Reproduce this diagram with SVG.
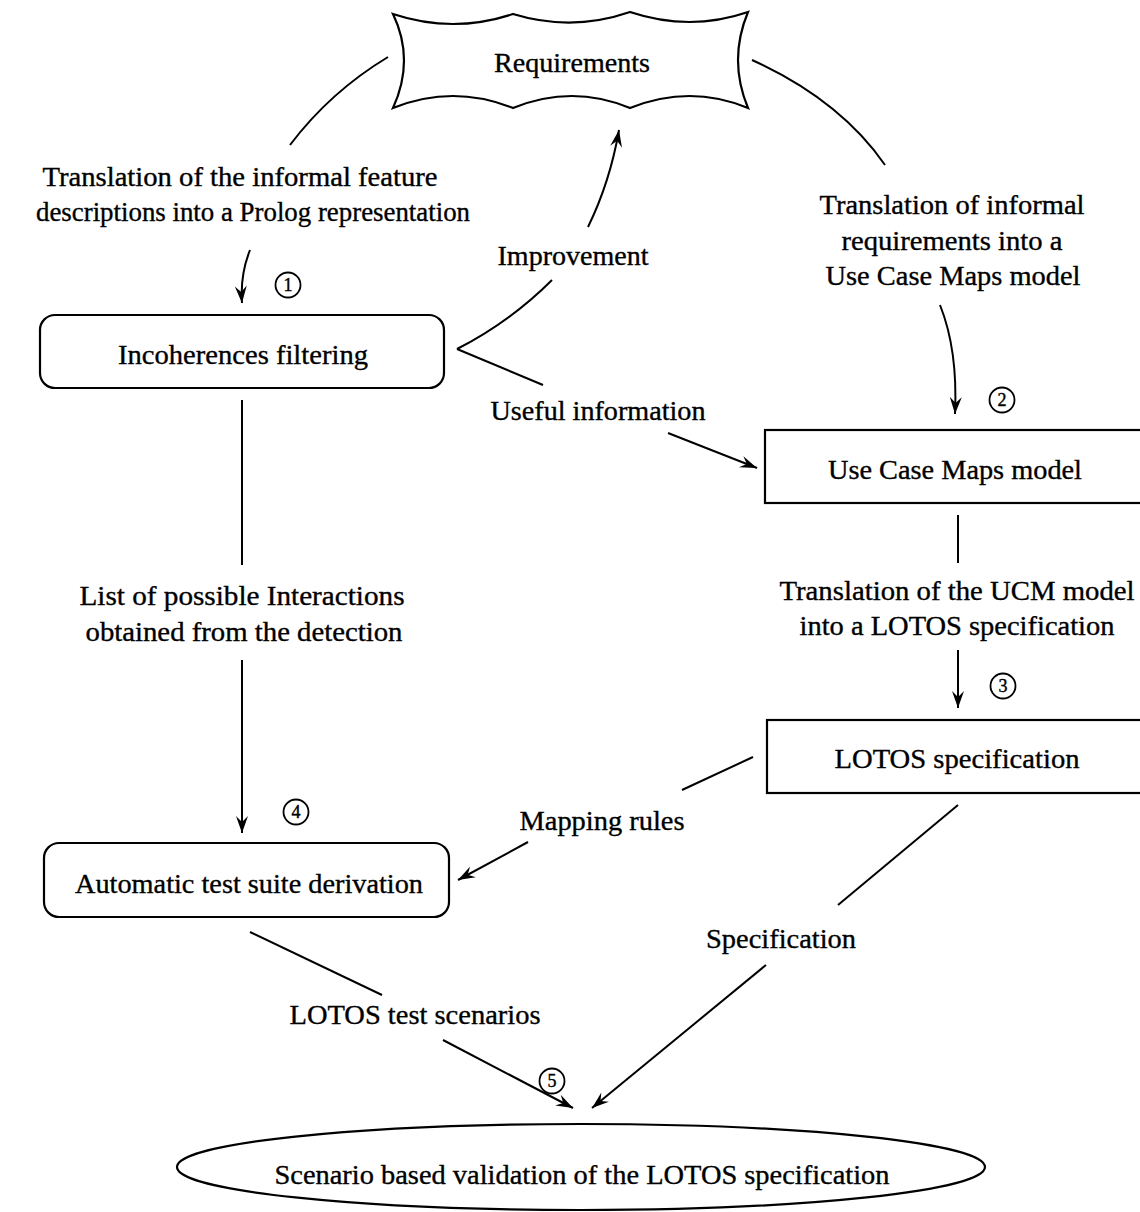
<svg xmlns="http://www.w3.org/2000/svg" width="1140" height="1212" viewBox="0 0 1140 1212">
  <style>
    .shape { fill: #fff; stroke: #000; stroke-width: 2.2; }
    .edge { fill: none; stroke: #000; stroke-width: 2; }
    .lbl { font-family: "Liberation Serif", "Times New Roman", serif; font-size: 27px; fill: #000; stroke: #000; stroke-width: 0.35; text-anchor: middle; }
    .num { font-family: "Liberation Serif", "Times New Roman", serif; font-size: 18px; fill: #000; stroke: #000; stroke-width: 0.4; text-anchor: middle; }
    .ring { fill: none; stroke: #000; stroke-width: 1.8; }
  </style>
  <defs>
    <marker id="arrow" markerUnits="userSpaceOnUse" markerWidth="22" markerHeight="16" viewBox="-18 -8 20 16" refX="0" refY="0" orient="auto">
      <path d="M0,0 L-17,-6 L-11,0 L-17,6 Z" fill="#000"/>
    </marker>
  </defs>
  <rect width="1140" height="1212" fill="#fff"/>

  <!-- connectors -->
  <g id="connectors">
    <path class="edge" d="M290,145 Q330,92 388,57"/>
    <path class="edge" d="M752,60 Q840,100 885,165"/>
    <path class="edge" d="M250,250 Q240,275 242,303" marker-end="url(#arrow)"/>
    <path class="edge" d="M588,227 Q610,182 619,130" marker-end="url(#arrow)"/>
    <path class="edge" d="M457,349 Q510,322 552,280"/>
    <path class="edge" d="M457,349 L543,385"/>
    <path class="edge" d="M668,433 L757,468" marker-end="url(#arrow)"/>
    <path class="edge" d="M940,305 Q958,350 955,414" marker-end="url(#arrow)"/>
    <path class="edge" d="M958,515 L958,563"/>
    <path class="edge" d="M958,650 L958,708" marker-end="url(#arrow)"/>
    <path class="edge" d="M753,757 L682,790"/>
    <path class="edge" d="M528,842 L458,880" marker-end="url(#arrow)"/>
    <path class="edge" d="M242,400 L242,565"/>
    <path class="edge" d="M242,660 L242,833" marker-end="url(#arrow)"/>
    <path class="edge" d="M250,932 L382,995"/>
    <path class="edge" d="M443,1040 L573,1108" marker-end="url(#arrow)"/>
    <path class="edge" d="M958,805 L838,905"/>
    <path class="edge" d="M766,965 L592,1108" marker-end="url(#arrow)"/>
  </g>

  <!-- connector labels -->
  <g id="edge-labels">
    <text class="lbl" x="240" y="186" textLength="395" lengthAdjust="spacingAndGlyphs">Translation of the informal feature</text>
    <text class="lbl" x="253" y="221" textLength="434" lengthAdjust="spacingAndGlyphs">descriptions into a Prolog representation</text>
    <text class="lbl" x="573" y="265" textLength="151" lengthAdjust="spacingAndGlyphs">Improvement</text>
    <text class="lbl" x="952" y="214" textLength="265" lengthAdjust="spacingAndGlyphs">Translation of informal</text>
    <text class="lbl" x="952" y="250" textLength="221" lengthAdjust="spacingAndGlyphs">requirements into a</text>
    <text class="lbl" x="953" y="285" textLength="255" lengthAdjust="spacingAndGlyphs">Use Case Maps model</text>
    <text class="lbl" x="598" y="420" textLength="215" lengthAdjust="spacingAndGlyphs">Useful information</text>
    <text class="lbl" x="957" y="600" textLength="355" lengthAdjust="spacingAndGlyphs">Translation of the UCM model</text>
    <text class="lbl" x="957" y="635" textLength="315" lengthAdjust="spacingAndGlyphs">into a LOTOS specification</text>
    <text class="lbl" x="242" y="605" textLength="325" lengthAdjust="spacingAndGlyphs">List of possible Interactions</text>
    <text class="lbl" x="244" y="641" textLength="317" lengthAdjust="spacingAndGlyphs">obtained from the detection</text>
    <text class="lbl" x="602" y="830" textLength="165" lengthAdjust="spacingAndGlyphs">Mapping rules</text>
    <text class="lbl" x="781" y="948" textLength="150" lengthAdjust="spacingAndGlyphs">Specification</text>
    <text class="lbl" x="415" y="1024" textLength="251" lengthAdjust="spacingAndGlyphs">LOTOS test scenarios</text>
  </g>

  <!-- step numbers -->
  <g id="steps">
    <circle class="ring" cx="288" cy="285" r="12.5"/><text class="num" x="288" y="291">1</text>
    <circle class="ring" cx="1002" cy="400" r="12.5"/><text class="num" x="1002" y="406">2</text>
    <circle class="ring" cx="1003" cy="686" r="12.5"/><text class="num" x="1003" y="692">3</text>
    <circle class="ring" cx="296" cy="812" r="12.5"/><text class="num" x="296" y="818">4</text>
    <circle class="ring" cx="552" cy="1081" r="12.5"/><text class="num" x="552" y="1087">5</text>
  </g>

  <g id="requirements">
    <path class="shape" d="M393,14 Q453,34 513,14 Q572,32 630,12 Q690,32 748,12 Q728,60 748,108 Q690,84 630,108 Q572,84 513,108 Q453,84 393,108 Q415,60 393,14 Z"/>
    <text class="lbl" x="572" y="72" textLength="156" lengthAdjust="spacingAndGlyphs">Requirements</text>
  </g>

  <g id="incoherences">
    <rect class="shape" x="40" y="315" width="404" height="73" rx="15"/>
    <text class="lbl" x="243" y="364" textLength="250" lengthAdjust="spacingAndGlyphs">Incoherences filtering</text>
  </g>

  <g id="ucm-model">
    <rect class="shape" x="765" y="430" width="390" height="73"/>
    <text class="lbl" x="955" y="479" textLength="254" lengthAdjust="spacingAndGlyphs">Use Case Maps model</text>
  </g>

  <g id="lotos-spec">
    <rect class="shape" x="767" y="720" width="390" height="73"/>
    <text class="lbl" x="957" y="768" textLength="245" lengthAdjust="spacingAndGlyphs">LOTOS specification</text>
  </g>

  <g id="test-derivation">
    <rect class="shape" x="44" y="843" width="405" height="74" rx="15"/>
    <text class="lbl" x="249" y="893" textLength="348" lengthAdjust="spacingAndGlyphs">Automatic test suite derivation</text>
  </g>

  <g id="validation">
    <ellipse class="shape" cx="581" cy="1167" rx="404" ry="43"/>
    <text class="lbl" x="582" y="1184" textLength="615" lengthAdjust="spacingAndGlyphs">Scenario based validation of the LOTOS specification</text>
  </g>
</svg>
